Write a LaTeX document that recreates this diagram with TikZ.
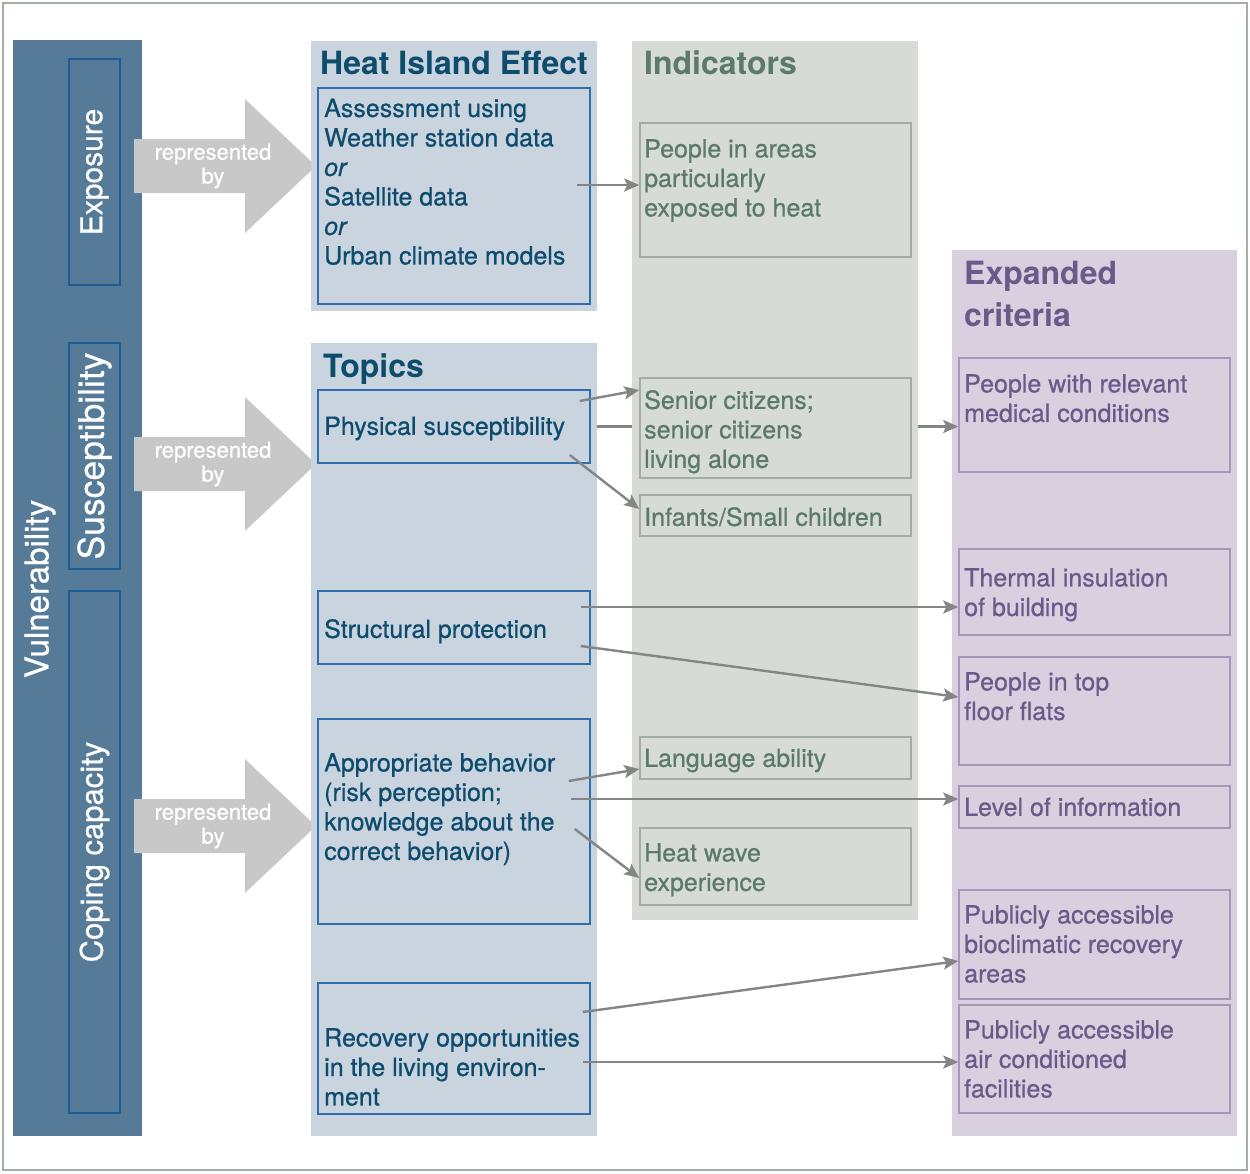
\documentclass[tikz,border=0pt]{standalone}
\usepackage{fontspec}
\setmainfont{TeX Gyre Heros}[UprightFeatures={FakeBold=0.7}, ItalicFeatures={FakeBold=0.7}]
\usetikzlibrary{arrows.meta}

\definecolor{vulblue}{HTML}{557B98}
\definecolor{darkline}{HTML}{1D5D95}
\definecolor{repgray}{HTML}{C8C8C8}
\definecolor{topicfill}{HTML}{C9D4DF}
\definecolor{topictext}{HTML}{0E4C6E}
\definecolor{topicline}{HTML}{2F6EAB}
\definecolor{indfill}{HTML}{D6DBD5}
\definecolor{indtext}{HTML}{5B7A6A}
\definecolor{indline}{HTML}{A3ADA6}
\definecolor{expfill}{HTML}{D9D0DF}
\definecolor{exptext}{HTML}{6A5A8A}
\definecolor{expline}{HTML}{A896B9}
\definecolor{linkgray}{HTML}{858585}
\definecolor{framegray}{HTML}{A3AFA3}

\begin{document}
\begin{tikzpicture}[x=1pt, y=-1pt,
    >={Stealth[length=15pt,width=13pt,inset=3pt]},
    panel/.style={rectangle, inner sep=0pt, minimum width=286pt},
    box/.style={draw, rectangle, inner sep=0pt, line width=1.5pt, minimum width=272pt},
    dim/.style={draw=darkline, line width=1.5pt, rectangle, inner sep=0pt, rotate=90,
      minimum height=51pt, text=white},
    txt/.style={anchor=north west, inner sep=0pt, align=left,
      font=\fontsize{25}{29.5}\selectfont, execute at begin node=\strut},
    title/.style={anchor=north west, inner sep=0pt, align=left,
      font=\fontsize{32}{42}\selectfont\bfseries, execute at begin node=\strut},
    reptxt/.style={text=white, align=center, inner sep=0pt, font=\fontsize{22}{24}\selectfont},
    link/.style={draw=linkgray, line width=2.4pt}]
  \useasboundingbox (0,0) rectangle (1250,1173);
  \draw[framegray, line width=2pt] (3,3) rectangle (1247,1170);

  % vulnerability column
  \node[panel, fill=vulblue, minimum width=129pt, minimum height=1096pt] (vul) at (77.5,588) {};
  \node[rotate=90, text=white, inner sep=0pt, font=\fontsize{33}{33}\selectfont] (vultxt) at (40,589) {Vulnerability};
  \node[dim, minimum width=226pt, font=\fontsize{30}{30}\selectfont] (expo) at (94.5,172) {Exposure};
  \node[dim, minimum width=226pt, font=\fontsize{35.5}{35.5}\selectfont] (susc) at (94.5,456) {Susceptibility};
  \node[dim, minimum width=522pt, font=\fontsize{31}{31}\selectfont] (coping) at (94.5,852) {Coping capacity};

  % represented by
  \foreach \ty/\nm in {166/repa, 464/repb, 826/repc} {
    \fill[repgray] (134,\ty-27) -- (245,\ty-27) -- (245,\ty-67) -- (316,\ty)
      -- (245,\ty+67) -- (245,\ty+27) -- (134,\ty+27) -- cycle;
    \node[reptxt] (\nm) at (213,\ty) {represented\\by};
  }

  % panels
  \node[panel, fill=topicfill, minimum height=270pt] (hiep) at (454,176) {};
  \node[panel, fill=topicfill, minimum height=793pt] (topics) at (454,739.5) {};
  \node[panel, fill=indfill, minimum height=879pt] (ind) at (775,480.5) {};
  \node[panel, fill=expfill, minimum width=285pt, minimum height=886pt] (exp) at (1094.5,693) {};

  \node[title, text=topictext] (hietitle) at (320,45) {Heat Island Effect};
  \node[title, text=topictext] (topictitle) at (323,348) {Topics};
  \node[title, text=indtext] (indtitle) at (644,45) {Indicators};
  \node[title, text=exptext] (exptitle) at (964,261) {Expanded\\criteria};

  % topics
  \node[box, draw=topicline, minimum height=216pt] (hie) at (454,196) {};
  \node[box, draw=topicline, minimum height=73pt] (phys) at (454,426.5) {};
  \node[box, draw=topicline, minimum height=73pt] (struct) at (454,627.5) {};
  \node[box, draw=topicline, minimum height=205pt] (behav) at (454,821.5) {};
  \node[box, draw=topicline, minimum height=131pt] (recov) at (454,1048.5) {};
  \node[txt, text=topictext] (hietxt) at (324,98.5) {Assessment using\\Weather station data\\\textit{or}\\Satellite data\\\textit{or}\\Urban climate models};
  \node[txt, text=topictext] (phystxt) at (324,414) {Physical susceptibility};
  \node[txt, text=topictext] (structtxt) at (324,617) {Structural protection};
  \node[txt, text=topictext] (behavtxt) at (324,753) {Appropriate behavior\\(risk perception;\\knowledge about the\\correct behavior)};
  \node[txt, text=topictext] (recovtxt) at (324,1028) {Recovery opportunities\\in the living environ-\\ment};

  % indicators
  \node[box, draw=indline, minimum width=271pt, minimum height=134pt] (areas) at (775.5,190) {};
  \node[box, draw=indline, minimum width=271pt, minimum height=100pt] (senior) at (775.5,428) {};
  \node[box, draw=indline, minimum width=271pt, minimum height=41pt] (infant) at (775.5,515.5) {};
  \node[box, draw=indline, minimum width=271pt, minimum height=42pt] (lang) at (775.5,758) {};
  \node[box, draw=indline, minimum width=271pt, minimum height=77pt] (wave) at (775.5,866.5) {};
  \node[txt, text=indtext] (areastxt) at (644,139) {People in areas\\particularly\\exposed to heat};
  \node[txt, text=indtext] (seniortxt) at (644,390) {Senior citizens;\\senior citizens\\living alone};
  \node[txt, text=indtext] (infanttxt) at (644,505) {Infants/Small children};
  \node[txt, text=indtext] (langtxt) at (644,746) {Language ability};
  \node[txt, text=indtext] (wavetxt) at (644,843) {Heat wave\\experience};

  % expanded criteria
  \node[box, draw=expline, minimum width=271pt, minimum height=114pt] (med) at (1094.5,415) {};
  \node[box, draw=expline, minimum width=271pt, minimum height=86pt] (therm) at (1094.5,592) {};
  \node[box, draw=expline, minimum width=271pt, minimum height=108pt] (top) at (1094.5,711) {};
  \node[box, draw=expline, minimum width=271pt, minimum height=42pt] (level) at (1094.5,807) {};
  \node[box, draw=expline, minimum width=271pt, minimum height=109pt] (bio) at (1094.5,944.5) {};
  \node[box, draw=expline, minimum width=271pt, minimum height=108pt] (aircon) at (1094.5,1059) {};
  \node[txt, text=exptext] (medtxt) at (964,374) {People with relevant\\medical conditions};
  \node[txt, text=exptext] (thermtxt) at (964,568) {Thermal insulation\\of building};
  \node[txt, text=exptext] (toptxt) at (964,672) {People in top\\floor flats};
  \node[txt, text=exptext] (leveltxt) at (964,795) {Level of information};
  \node[txt, text=exptext] (biotxt) at (964,905) {Publicly accessible\\bioclimatic recovery\\areas};
  \node[txt, text=exptext] (aircontxt) at (964,1020) {Publicly accessible\\air conditioned\\facilities};

  % connectors
  \draw[link, ->] ([xshift=-14pt,yshift=11pt]hie.east) -- ([yshift=5pt]areas.west);
  \draw[link, ->] ([xshift=-11pt,yshift=25.5pt]phys.east) -- ([yshift=38pt]senior.west);
  \draw[link, ->] ([xshift=-21pt,yshift=-28.5pt]phys.east) -- ([yshift=6.5pt]infant.west);
  \draw[link] (topics.east |- phys.east) -- (ind.west |- phys.east);
  \draw[link, ->] (ind.east |- phys.east) -- (med.west |- phys.east);
  \draw[link, ->] ([xshift=-10pt,yshift=20.5pt]struct.east) -- ([yshift=-15pt]therm.west);
  \draw[link, ->] ([xshift=-10pt,yshift=-18.5pt]struct.east) -- ([yshift=14pt]top.west);
  \draw[link, ->] ([xshift=-22pt,yshift=40.5pt]behav.east) -- ([yshift=-11pt]lang.west);
  \draw[link, ->] ([xshift=-20pt,yshift=22.5pt]behav.east) -- ([yshift=8pt]level.west);
  \draw[link, ->] ([xshift=-16pt,yshift=-7.5pt]behav.east) -- ([yshift=-11.5pt]wave.west);
  \draw[link, ->] ([xshift=-8pt,yshift=36.5pt]recov.east) -- ([yshift=-16.5pt]bio.west);
  \draw[link, ->] ([xshift=-8pt,yshift=-13.5pt]recov.east) -- ([yshift=-3pt]aircon.west);
\end{tikzpicture}
\end{document}
